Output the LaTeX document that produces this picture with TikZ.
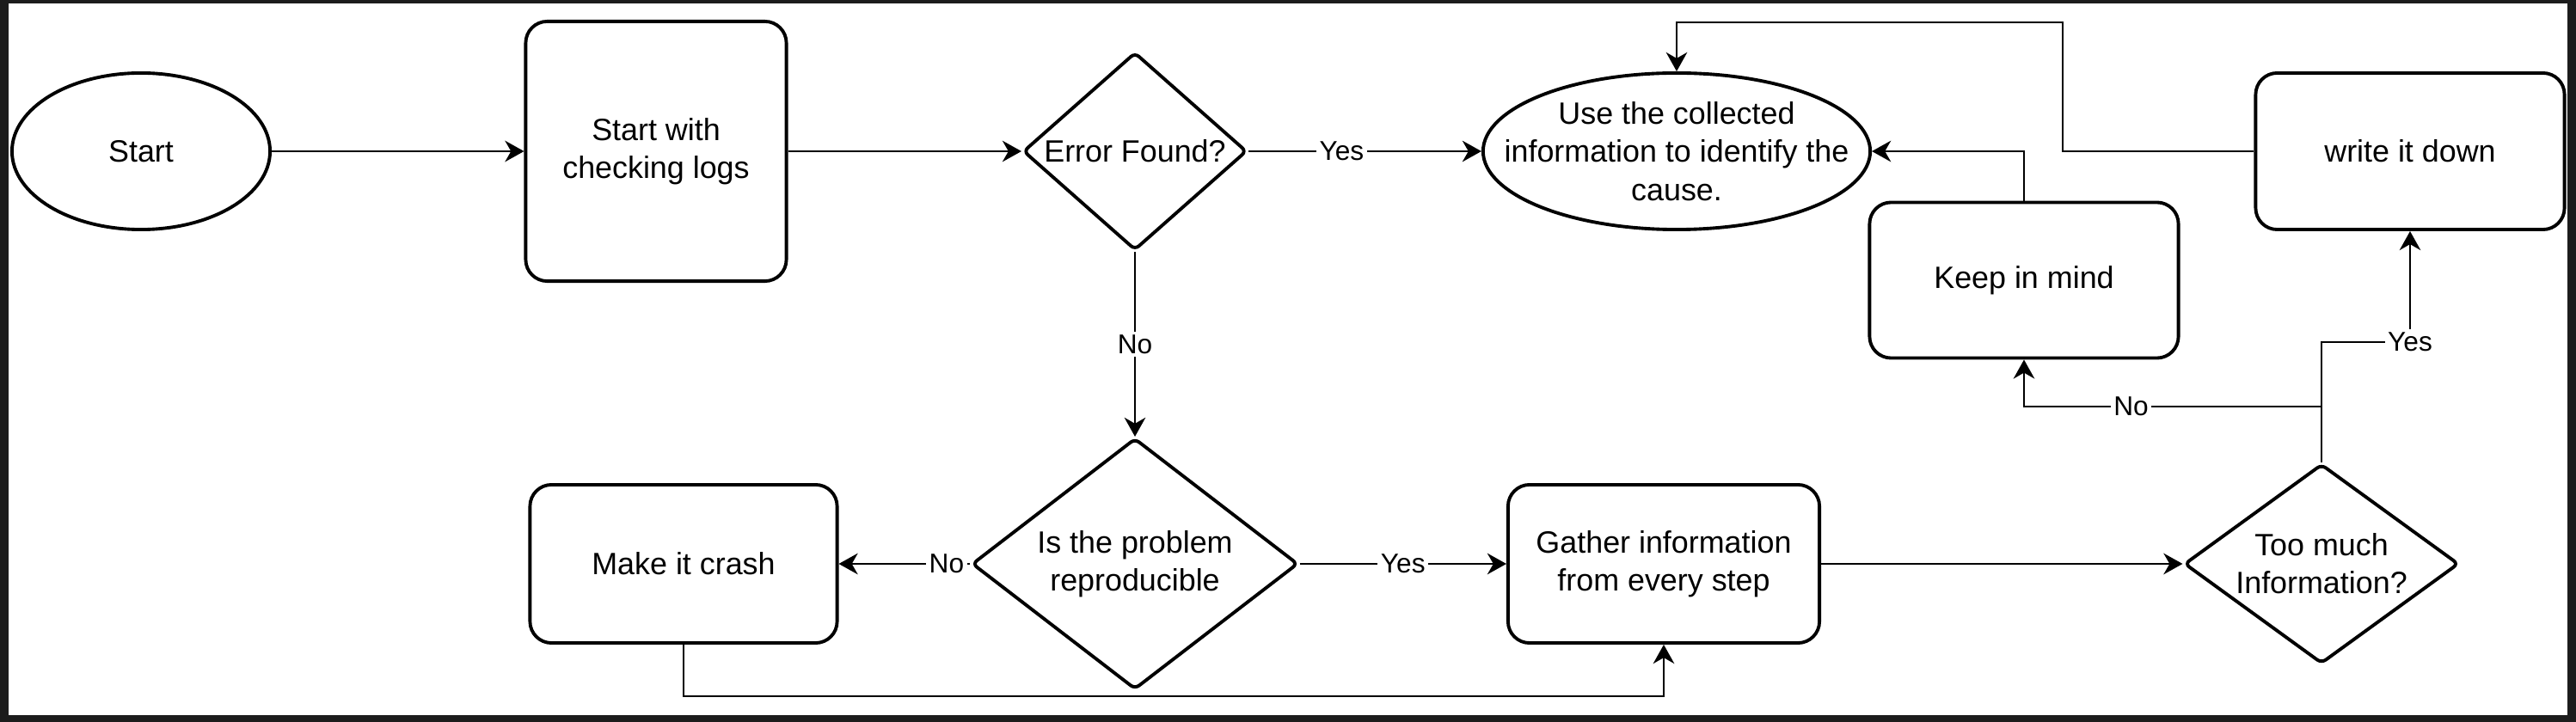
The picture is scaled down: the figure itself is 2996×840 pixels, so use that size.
\documentclass[tikz,border=0pt]{standalone}
\usepackage{fontspec}
\setmainfont{Liberation Sans}
\usetikzlibrary{arrows.meta,shapes.geometric}
\tikzset{>={Stealth[length=6.3pt,width=7pt,inset=2pt]}}
\definecolor{framegray}{HTML}{1C1C1C}
\tikzset{
  box/.style={draw,line width=1.1pt,rounded corners=0.25cm,fill=white,align=center},
  oval/.style={draw,line width=1.1pt,ellipse,fill=white,align=center},
  choice/.style={draw,line width=1.1pt,diamond,inner sep=0pt,rounded corners=0.06cm,fill=white,align=center},
  link/.style={->,line width=0.55pt},
  lbl/.style={fill=white,inner sep=1pt,font=\fontsize{9}{10}\selectfont}
}

\begin{document}
\begin{tikzpicture}[x=0.01cm,y=-0.01cm,font=\fontsize{10.2}{12.6}\selectfont]
\fill[framegray] (0,0) rectangle (2996,840);
\fill[white] (10,4) rectangle (2986,832);
% top row
\node[oval,minimum width=3.0cm,minimum height=1.82cm] (start) at (164,176) {Start};
\node[box,minimum width=3.03cm,minimum height=3.02cm] (logs) at (763,176)
  {Start with\\checking logs};
\node[choice,aspect=1.13,minimum width=2.6cm,minimum height=2.3cm] (found) at (1320,176)
  {Error Found?};
\node[oval,minimum width=4.5cm,minimum height=1.82cm,
  label={[align=center]center:Use the collected\\information to identify the\\cause.}]
  (cause) at (1950,176) {};
\node[box,minimum width=3.59cm,minimum height=1.82cm] (write) at (2803,176)
  {write it down};
\node[box,minimum width=3.59cm,minimum height=1.81cm] (mind) at (2354,326)
  {Keep in mind};
% bottom row
\node[box,minimum width=3.57cm,minimum height=1.84cm] (crash) at (795,656)
  {Make it crash};
\node[choice,aspect=1.3,minimum width=3.79cm,minimum height=2.92cm] (repro) at (1320,656)
  {Is the problem\\reproducible};
\node[box,minimum width=3.62cm,minimum height=1.84cm] (gather) at (1935,656)
  {Gather information\\from every step};
\node[choice,aspect=1.375,minimum width=3.19cm,minimum height=2.32cm] (much) at (2700,656)
  {Too much\\Information?};
\coordinate (over) at (2399,26);

\draw[link] (start) -- (logs);
\draw[link] (logs) -- (found);
\draw[link] (found) -- node[lbl,pos=0.4]{Yes} (cause);
\draw[link] (found) -- node[lbl]{No} (repro);
\draw[link] (repro) -- node[lbl,pos=0.18]{No} (crash);
\draw[link] (repro) -- node[lbl]{Yes} (gather);
\draw[link] (crash.south) -- ++(0,60) -| (gather.south);
\draw[link] (gather) -- (much);
\draw[link] (much.north) -- ++(0,-65) -| node[lbl,pos=0.32]{No} (mind.south);
\draw[link] (much.north) -- ++(0,-140) -| node[lbl,pos=0.5]{Yes} (write.south);
\draw[link] (mind.north) |- (cause.east);
\draw[link] (write.west) -| (over) -| (cause.north);
\end{tikzpicture}
\end{document}
